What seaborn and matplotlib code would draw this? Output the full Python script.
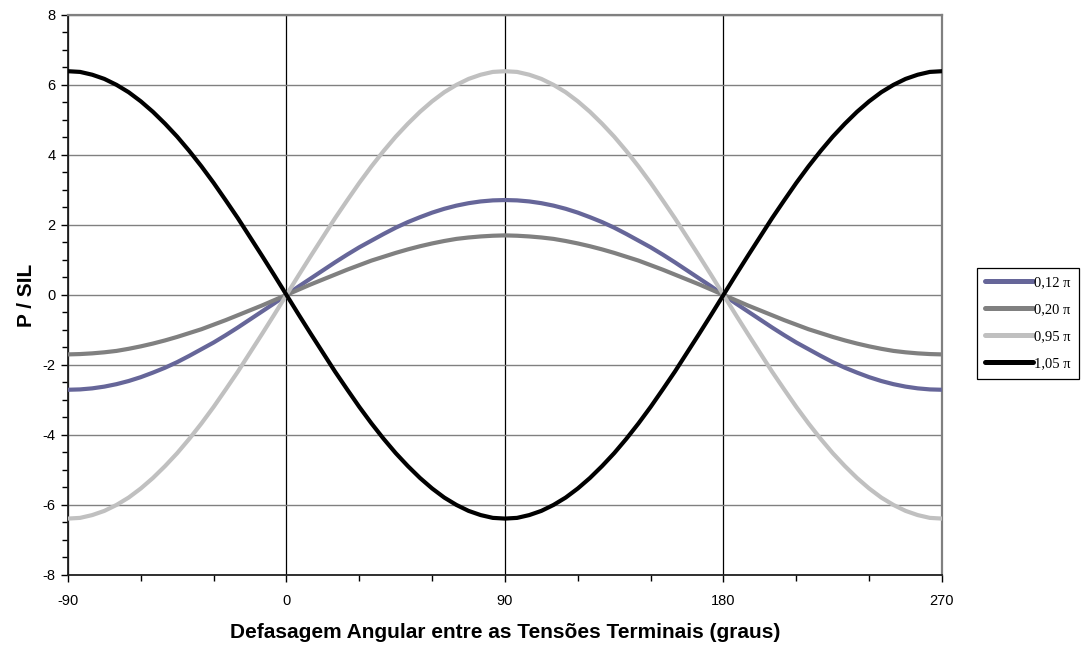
import pandas as pd
import matplotlib
matplotlib.use("Agg")
import matplotlib.pyplot as plt
from matplotlib.ticker import MultipleLocator
import seaborn as sns

# Angular displacement between terminal voltages (degrees), 5 degree steps
angles = list(range(-90, 271, 5))

# P / SIL for each line electrical length
p_012 = [-2.71, -2.70, -2.67, -2.62, -2.55, -2.46, -2.35, -2.22, -2.08, -1.92, -1.74, -1.55, -1.36,
         -1.15, -0.93, -0.70, -0.47, -0.24, 0.00,
         0.24, 0.47, 0.70, 0.93, 1.15, 1.36, 1.55, 1.74, 1.92, 2.08, 2.22, 2.35, 2.46, 2.55, 2.62,
         2.67, 2.70, 2.71,
         2.70, 2.67, 2.62, 2.55, 2.46, 2.35, 2.22, 2.08, 1.92, 1.74, 1.55, 1.36, 1.15, 0.93, 0.70,
         0.47, 0.24, 0.00,
         -0.24, -0.47, -0.70, -0.93, -1.15, -1.36, -1.55, -1.74, -1.92, -2.08, -2.22, -2.35, -2.46,
         -2.55, -2.62, -2.67, -2.70, -2.71]
p_020 = [-1.70, -1.69, -1.67, -1.64, -1.60, -1.54, -1.47, -1.39, -1.30, -1.20, -1.09, -0.98, -0.85,
         -0.72, -0.58, -0.44, -0.30, -0.15, 0.00,
         0.15, 0.30, 0.44, 0.58, 0.72, 0.85, 0.98, 1.09, 1.20, 1.30, 1.39, 1.47, 1.54, 1.60, 1.64,
         1.67, 1.69, 1.70,
         1.69, 1.67, 1.64, 1.60, 1.54, 1.47, 1.39, 1.30, 1.20, 1.09, 0.98, 0.85, 0.72, 0.58, 0.44,
         0.30, 0.15, 0.00,
         -0.15, -0.30, -0.44, -0.58, -0.72, -0.85, -0.98, -1.09, -1.20, -1.30, -1.39, -1.47, -1.54,
         -1.60, -1.64, -1.67, -1.69, -1.70]
p_095 = [-6.39, -6.37, -6.29, -6.17, -6.00, -5.79, -5.53, -5.23, -4.89, -4.52, -4.11, -3.67, -3.20,
         -2.70, -2.19, -1.65, -1.11, -0.56, 0.00,
         0.56, 1.11, 1.65, 2.19, 2.70, 3.20, 3.67, 4.11, 4.52, 4.89, 5.23, 5.53, 5.79, 6.00, 6.17,
         6.29, 6.37, 6.39,
         6.37, 6.29, 6.17, 6.00, 5.79, 5.53, 5.23, 4.89, 4.52, 4.11, 3.67, 3.20, 2.70, 2.19, 1.65,
         1.11, 0.56, 0.00,
         -0.56, -1.11, -1.65, -2.19, -2.70, -3.20, -3.67, -4.11, -4.52, -4.89, -5.23, -5.53, -5.79,
         -6.00, -6.17, -6.29, -6.37, -6.39]
p_105 = [6.39, 6.37, 6.29, 6.17, 6.00, 5.79, 5.53, 5.23, 4.89, 4.52, 4.11, 3.67, 3.20,
         2.70, 2.19, 1.65, 1.11, 0.56, 0.00,
         -0.56, -1.11, -1.65, -2.19, -2.70, -3.20, -3.67, -4.11, -4.52, -4.89, -5.23, -5.53, -5.79,
         -6.00, -6.17, -6.29, -6.37, -6.39,
         -6.37, -6.29, -6.17, -6.00, -5.79, -5.53, -5.23, -4.89, -4.52, -4.11, -3.67, -3.20, -2.70,
         -2.19, -1.65, -1.11, -0.56, 0.00,
         0.56, 1.11, 1.65, 2.19, 2.70, 3.20, 3.67, 4.11, 4.52, 4.89, 5.23, 5.53, 5.79,
         6.00, 6.17, 6.29, 6.37, 6.39]

series_names = ["0,12 \u03c0", "0,20 \u03c0", "0,95 \u03c0", "1,05 \u03c0"]
series_values = [p_012, p_020, p_095, p_105]
series_colors = ["#666699", "#808080", "#C0C0C0", "#000000"]

df = pd.concat(
    [pd.DataFrame({"ang": angles, "p": vals, "serie": name})
     for name, vals in zip(series_names, series_values)],
    ignore_index=True,
)

sns.set_style("white")
plt.rcParams["font.family"] = ["Liberation Sans", "DejaVu Sans"]
plt.rcParams["axes.unicode_minus"] = False
plt.rcParams["text.color"] = "black"
plt.rcParams["axes.labelcolor"] = "black"
plt.rcParams["xtick.color"] = "black"
plt.rcParams["ytick.color"] = "black"

fig = plt.figure(figsize=(10.89, 6.46), dpi=100)
ax = fig.add_axes([0.0624, 0.110, 0.8026, 0.867])

sns.lineplot(data=df, x="ang", y="p", hue="serie", hue_order=series_names,
             palette=dict(zip(series_names, series_colors)), linewidth=3.0,
             sort=False, ax=ax, legend=True, zorder=3)

ax.set_xlim(-90, 270)
ax.set_ylim(-8, 8)
ax.xaxis.set_major_locator(MultipleLocator(90))
ax.xaxis.set_minor_locator(MultipleLocator(30))
ax.yaxis.set_major_locator(MultipleLocator(2))
ax.yaxis.set_minor_locator(MultipleLocator(0.5))

# grid: horizontal gray, vertical black
ax.yaxis.grid(True, which="major", color="#808080", linewidth=1.0)
ax.xaxis.grid(True, which="major", color="#000000", linewidth=0.9)
ax.set_axisbelow(True)

for side in ["left", "bottom"]:
    ax.spines[side].set_color("#202020")
    ax.spines[side].set_linewidth(1.3)
for side in ["top", "right"]:
    ax.spines[side].set_color("#808080")
    ax.spines[side].set_linewidth(1.6)

ax.tick_params(axis="both", which="major", direction="out", length=5, width=1.0,
               color="black", labelcolor="black", labelsize=10.5, bottom=True, left=True, pad=4)
ax.tick_params(axis="both", which="minor", direction="out", length=4, width=1.0,
               color="black", bottom=True, left=True)
ax.tick_params(axis="x", which="major", pad=9)

ax.set_xlabel("Defasagem Angular entre as Tens\u00f5es Terminais (graus)",
              fontsize=15, fontweight="bold", color="black")
ax.set_ylabel("P / SIL", fontsize=15, fontweight="bold", color="black")
ax.xaxis.set_label_coords(0.5, -0.102)
ax.xaxis.label.set_va("center")
ax.yaxis.set_label_coords(-0.048, 0.5)
ax.yaxis.label.set_va("center")

handles, labels = ax.get_legend_handles_labels()
for h in handles:
    h.set_linewidth(3.6)
leg = fig.legend(handles, labels, loc="upper left", bbox_to_anchor=(0.897, 0.585),
                 frameon=True, fancybox=False, edgecolor="black", framealpha=1,
                 prop={"family": ["Liberation Serif", "DejaVu Serif"], "size": 10.5},
                 handlelength=3.3, handletextpad=0.1, labelspacing=0.95, borderpad=0.55,
                 borderaxespad=0, labelcolor="black")
leg.get_frame().set_linewidth(0.9)
ax.get_legend().remove()

fig.savefig("out.png", dpi=100)
